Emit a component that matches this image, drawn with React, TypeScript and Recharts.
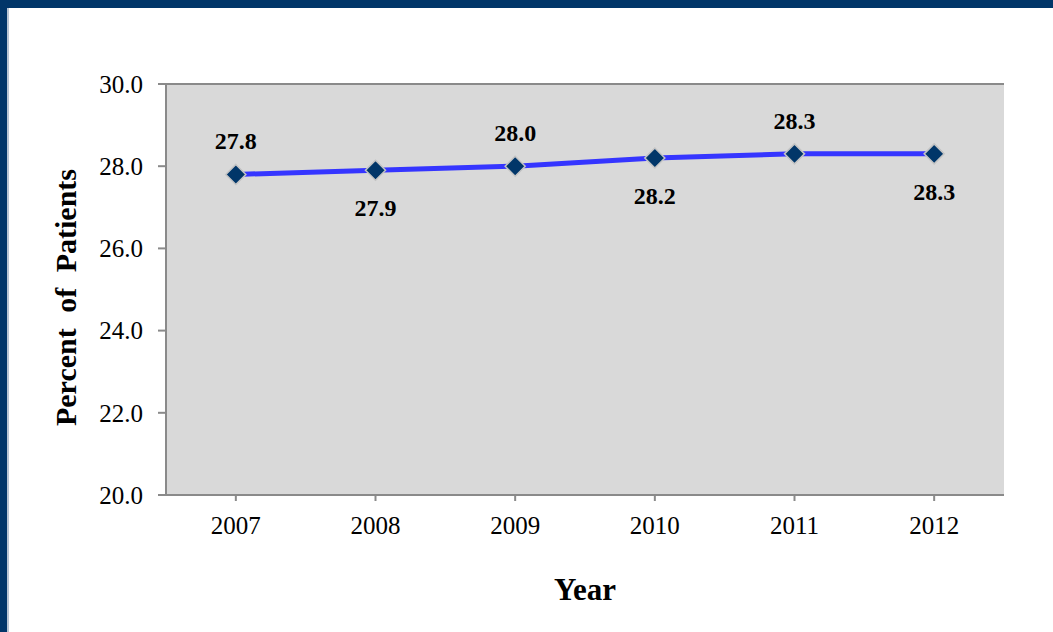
import React from 'react';
import { LineChart, Line, XAxis, YAxis, CartesianGrid, LabelList } from 'recharts';

const years = ['2007', '2008', '2009', '2010', '2011', '2012'];
const percentOfPatients = [27.8, 27.9, 28.0, 28.2, 28.3, 28.3];
const yTicks = [20, 22, 24, 26, 28, 30];

const data = years.map((year, i) => ({ year, value: percentOfPatients[i] }));

const NAVY = '#013669';
const AXIS_GRAY = '#8a8a8a';
const FONT = '"Liberation Serif", "Times New Roman", serif';

const Diamond = (props: any) => {
  const { cx, cy } = props;
  if (cx == null || cy == null) return null;
  const r = 10;
  return (
    <path
      d={`M${cx},${cy - r} L${cx + r},${cy} L${cx},${cy + r} L${cx - r},${cy} Z`}
      fill={NAVY}
      stroke="#c4c4c4"
      strokeWidth={1.5}
    />
  );
};

// labels alternate above / below the points
const PointLabel = (props: any) => {
  const { x, y, value, index } = props;
  const above = index % 2 === 0;
  return (
    <text
      x={x}
      y={above ? y - 33 : y + 38}
      textAnchor="middle"
      dominantBaseline="central"
      fontFamily={FONT}
      fontWeight="bold"
      fontSize={24}
      fill="#000"
    >
      {Number(value).toFixed(1)}
    </text>
  );
};

const YTitle = (props: any) => {
  const { viewBox } = props;
  const cx = viewBox.x + 65;
  const cy = viewBox.y + viewBox.height / 2 + 8;
  return (
    <text
      x={cx}
      y={cy}
      transform={`rotate(-90, ${cx}, ${cy})`}
      textAnchor="middle"
      dominantBaseline="central"
      fontFamily={FONT}
      fontWeight="bold"
      fontSize={30}
      fill="#000"
      style={{ wordSpacing: 8 }}
    >
      Percent of Patients
    </text>
  );
};

export default function App() {
  return (
    <div
      style={{
        position: 'absolute',
        left: 0,
        top: 0,
        width: 1053,
        height: 632,
        background: '#fff',
        overflow: 'hidden',
      }}
    >
      <div style={{ position: 'absolute', left: 0, top: 0, width: 1053, height: 8, background: NAVY }} />
      <div style={{ position: 'absolute', left: 0, top: 0, width: 7, height: 632, background: NAVY }} />
      <div style={{ position: 'absolute', left: 7, top: 8, width: 2, height: 624, background: '#b9c5d3' }} />

      <div style={{ position: 'absolute', left: 0, top: 0 }}>
        <LineChart
          width={1053}
          height={632}
          data={data}
          margin={{ top: 84, right: 49, left: 0, bottom: 0 }}
        >
          <CartesianGrid
            vertical={false}
            fill="#d9d9d9"
            fillOpacity={1}
            stroke={AXIS_GRAY}
            strokeWidth={2}
          />
          <XAxis
            dataKey="year"
            scale="band"
            height={137}
            axisLine={{ stroke: AXIS_GRAY, strokeWidth: 2 }}
            tickLine={{ stroke: AXIS_GRAY, strokeWidth: 2 }}
            tickSize={6}
            tickMargin={15}
            tick={{ fill: '#000', fontFamily: FONT, fontSize: 25 }}
            label={{
              value: 'Year',
              position: 'insideTop',
              offset: 83,
              fill: '#000',
              fontFamily: FONT,
              fontWeight: 'bold',
              fontSize: 31,
            }}
          />
          <YAxis
            yAxisId="left"
            width={166}
            domain={[20, 30]}
            ticks={yTicks}
            interval={0}
            tickFormatter={(v: number) => v.toFixed(1)}
            axisLine={{ stroke: AXIS_GRAY, strokeWidth: 2 }}
            tickLine={{ stroke: AXIS_GRAY, strokeWidth: 2 }}
            tickSize={8}
            tickMargin={15}
            tick={{ fill: '#000', fontFamily: FONT, fontSize: 25 }}
            label={<YTitle />}
          />
          <YAxis
            yAxisId="right"
            orientation="right"
            width={0}
            domain={[20, 30]}
            ticks={yTicks}
            tick={false}
            tickLine={false}
            axisLine={{ stroke: AXIS_GRAY, strokeWidth: 2 }}
          />
          <Line
            yAxisId="left"
            type="linear"
            dataKey="value"
            stroke="#3535ff"
            strokeWidth={5}
            dot={<Diamond />}
            activeDot={false}
            isAnimationActive={false}
          >
            <LabelList dataKey="value" content={<PointLabel />} />
          </Line>
        </LineChart>
      </div>
    </div>
  );
}
